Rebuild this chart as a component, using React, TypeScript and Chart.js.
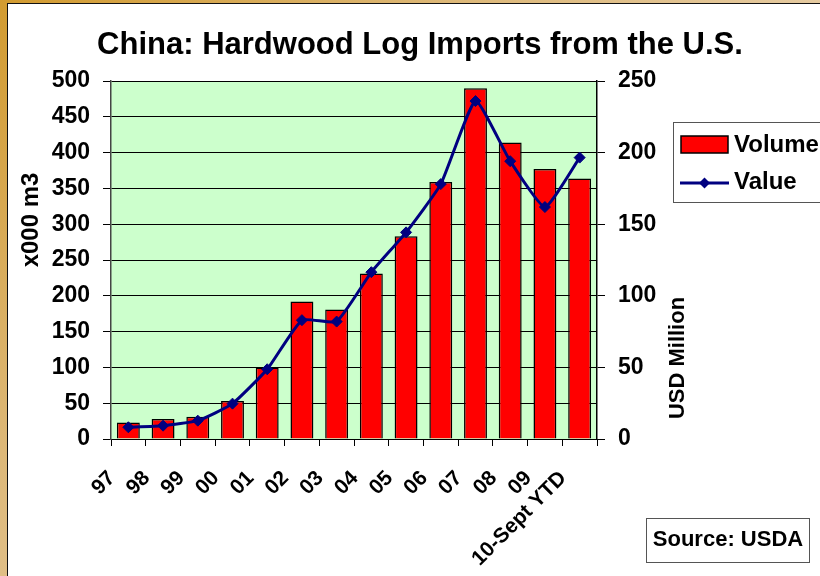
import React, { useEffect, useRef } from "react";
import { Chart, registerables } from "chart.js";

Chart.register(...registerables);

// Hardwood log imports by year (volume in thousand m3, value in USD million)
const categories = ["97", "98", "99", "00", "01", "02", "03", "04", "05", "06", "07", "08", "09", "10-Sept YTD"];
const volume = [23, 28, 31, 53, 100, 192, 181, 231, 283, 359, 490, 414, 377, 364];
const value = [8.2, 9.3, 12.8, 24.7, 48.7, 83, 82, 116.5, 144.3, 178, 236, 194, 162, 196.5];

const titleText = "China: Hardwood Log Imports from the U.S.";
const leftAxisTitle = "x000 m3";
const rightAxisTitle = "USD Million";
const sourceText = "Source: USDA";

const FONT = "'Liberation Sans', Arial, Helvetica, sans-serif";

const W = 820;
const H = 576;

const decorations = {
  id: "decorations",
  beforeDraw(chart: any) {
    const { ctx, chartArea } = chart;
    ctx.save();
    ctx.fillStyle = "#CCFFCC";
    ctx.fillRect(chartArea.left, chartArea.top, chartArea.right - chartArea.left, chartArea.bottom - chartArea.top);
    ctx.restore();
  },
  afterDraw(chart: any) {
    const { ctx } = chart;
    ctx.save();
    ctx.fillStyle = "#000";

    // chart title
    ctx.font = `bold 31px ${FONT}`;
    ctx.textAlign = "center";
    ctx.textBaseline = "alphabetic";
    ctx.fillText(titleText, 420, 54);

    // left axis title
    ctx.save();
    ctx.translate(31, 220);
    ctx.rotate(-Math.PI / 2);
    ctx.font = `bold 24px ${FONT}`;
    ctx.textAlign = "center";
    ctx.textBaseline = "middle";
    ctx.fillText(leftAxisTitle, 0, 0);
    ctx.restore();

    // right axis title
    ctx.save();
    ctx.translate(678, 358);
    ctx.rotate(-Math.PI / 2);
    ctx.font = `bold 22px ${FONT}`;
    ctx.textAlign = "center";
    ctx.textBaseline = "middle";
    ctx.fillText(rightAxisTitle, 0, 0);
    ctx.restore();

    // legend
    const bar = chart.data.datasets[1];
    const line = chart.data.datasets[0];
    ctx.fillStyle = "#fff";
    ctx.fillRect(673, 122, 160, 80);
    ctx.strokeStyle = "#555";
    ctx.lineWidth = 1;
    ctx.strokeRect(673.5, 122.5, 160, 80);

    ctx.fillStyle = bar.backgroundColor;
    ctx.fillRect(681, 136, 47, 17);
    ctx.strokeStyle = "#000";
    ctx.lineWidth = 1.5;
    ctx.strokeRect(681, 136, 47, 17);

    ctx.strokeStyle = line.borderColor;
    ctx.lineWidth = 3;
    ctx.beginPath();
    ctx.moveTo(680, 183);
    ctx.lineTo(729, 183);
    ctx.stroke();
    ctx.fillStyle = line.backgroundColor;
    ctx.beginPath();
    ctx.moveTo(704.5, 177.5);
    ctx.lineTo(710, 183);
    ctx.lineTo(704.5, 188.5);
    ctx.lineTo(699, 183);
    ctx.closePath();
    ctx.fill();

    ctx.fillStyle = "#000";
    ctx.font = `bold 24px ${FONT}`;
    ctx.textAlign = "left";
    ctx.textBaseline = "middle";
    ctx.fillText(bar.label, 734, 145);
    ctx.fillText(line.label, 734, 182);

    // source note
    ctx.fillStyle = "#fff";
    ctx.fillRect(646, 518, 163, 44);
    ctx.strokeStyle = "#555";
    ctx.lineWidth = 1;
    ctx.strokeRect(646.5, 518.5, 163, 44);
    ctx.fillStyle = "#000";
    ctx.font = `bold 22px ${FONT}`;
    ctx.textAlign = "center";
    ctx.textBaseline = "middle";
    ctx.fillText(sourceText, 728, 540);

    ctx.restore();
  },
};

function ImportsChart() {
  const ref = useRef<HTMLCanvasElement | null>(null);

  useEffect(() => {
    if (!ref.current) return;
    const chart = new Chart(ref.current, {
      type: "bar",
      data: {
        labels: categories,
        datasets: [
          {
            type: "line",
            label: "Value",
            data: value,
            yAxisID: "y1",
            borderColor: "#000080",
            backgroundColor: "#000080",
            borderWidth: 3,
            pointStyle: "rectRot",
            pointRadius: 5.5,
            pointBorderWidth: 1,
            tension: 0.15,
            order: 0,
          } as any,
          {
            type: "bar",
            label: "Volume",
            data: volume,
            yAxisID: "y",
            backgroundColor: "#FF0000",
            borderColor: "#000000",
            borderWidth: 1.5,
            barPercentage: 0.66,
            categoryPercentage: 1,
            order: 1,
          },
        ],
      },
      options: {
        responsive: false,
        animation: false,
        layout: { padding: { top: 81, left: 0, right: 0, bottom: 0 } },
        plugins: {
          legend: { display: false },
          title: { display: false },
          tooltip: { enabled: false },
        },
        scales: {
          x: {
            offset: true,
            grid: {
              display: true,
              drawOnChartArea: false,
              drawTicks: true,
              tickLength: 7,
              color: "#000",
              offset: true,
            },
            border: { color: "#000", width: 1 },
            ticks: {
              autoSkip: false,
              minRotation: 45,
              maxRotation: 45,
              labelOffset: -16.5,
              padding: 20,
              color: "#000",
              font: { family: FONT, size: 21, weight: "bold" },
            },
            afterFit: (s: any) => {
              s.height = 137;
            },
          },
          y: {
            position: "left",
            min: 0,
            max: 500,
            grid: { color: "#000", lineWidth: 1, tickLength: 8, drawTicks: true },
            border: { color: "#444", width: 1.5 },
            ticks: {
              stepSize: 50,
              padding: 13,
              color: "#000",
              font: { family: FONT, size: 23, weight: "bold" },
            },
            afterFit: (s: any) => {
              s.width = 111;
            },
          },
          y1: {
            position: "right",
            min: 0,
            max: 250,
            grid: { drawOnChartArea: false, color: "#000", tickLength: 8, drawTicks: true },
            border: { color: "#000", width: 1.5 },
            ticks: {
              stepSize: 50,
              padding: 13,
              color: "#000",
              font: { family: FONT, size: 23, weight: "bold" },
            },
            afterFit: (s: any) => {
              s.width = W - 597;
            },
          },
        },
      } as any,
      plugins: [decorations],
    });
    return () => chart.destroy();
  }, []);

  return <canvas ref={ref} width={W} height={H} style={{ position: "absolute", left: 0, top: 0, width: W, height: H }} />;
}

export default function App() {
  return (
    <div
      style={{
        position: "fixed",
        left: 0,
        top: 0,
        width: W,
        height: H,
        overflow: "hidden",
        background: "radial-gradient(circle at 0 0, #D29B30 0%, #DDB878 45%, #E9D3B4 100%)",
      }}
    >
      <div
        style={{
          position: "absolute",
          left: 7,
          top: 3,
          width: W,
          height: H,
          background: "#fff",
          borderLeft: "1px solid #111",
          borderTop: "1px solid #111",
        }}
      />
      <ImportsChart />
    </div>
  );
}
